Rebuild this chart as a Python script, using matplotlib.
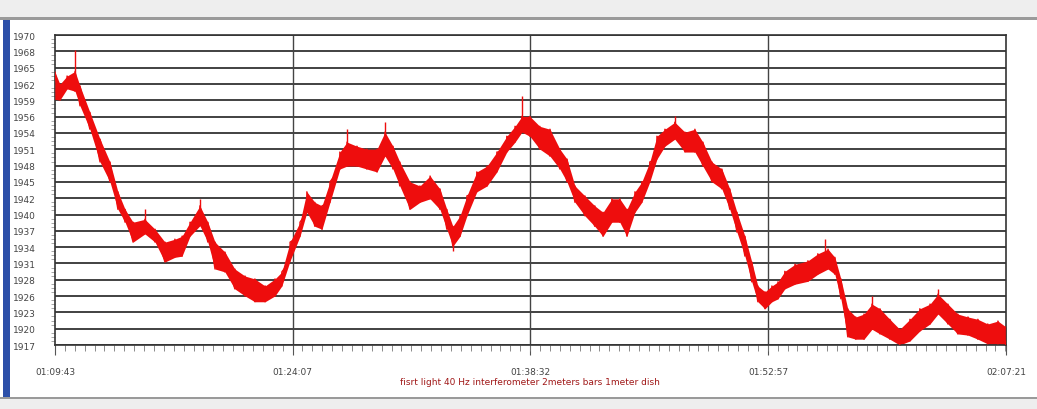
import numpy as np
import matplotlib
matplotlib.use("Agg")
import matplotlib.pyplot as plt
from matplotlib.patches import Rectangle

# seconds since 01:09:43, with the low / high edge of the noisy trace
t_sec = [0, 18, 44, 73, 91, 127, 164, 200, 229, 255, 284, 327, 364, 400, 436,
         462, 491, 527, 556, 582, 618, 654, 691, 727, 764, 800, 825, 855, 891,
         916, 945, 971, 1000, 1036, 1062, 1098, 1134, 1171, 1200, 1229, 1254,
         1291, 1327, 1364, 1400, 1425, 1447, 1473, 1498, 1534, 1571, 1607, 1643,
         1673, 1698, 1727, 1763, 1800, 1836, 1862, 1891, 1927, 1963, 1993, 2025,
         2054, 2080, 2109, 2134, 2163, 2189, 2218, 2254, 2291, 2327, 2356, 2389,
         2425, 2454, 2480, 2509, 2534, 2556, 2582, 2607, 2629, 2654, 2691, 2738,
         2774, 2811, 2836, 2858, 2883, 2912, 2942, 2971, 3000, 3036, 3072, 3109,
         3145, 3182, 3211, 3247, 3283, 3320, 3356, 3392, 3429, 3458]
v_high = [1963.7, 1961.6, 1963.0, 1963.8, 1961.3, 1956.8, 1952.2, 1948.3, 1943.2,
          1940.2, 1938.0, 1938.5, 1936.8, 1934.6, 1935.1, 1935.6, 1938.0, 1940.8,
          1938.0, 1934.6, 1932.9, 1930.0, 1928.8, 1928.3, 1927.1, 1928.3, 1929.5,
          1934.6, 1938.0, 1943.2, 1941.4, 1940.8, 1944.9, 1950.0, 1951.7, 1951.0,
          1950.5, 1950.5, 1953.4, 1951.0, 1948.3, 1944.9, 1944.2, 1945.9, 1943.7,
          1940.2, 1937.3, 1939.1, 1942.5, 1946.6, 1947.6, 1950.0, 1952.7, 1954.4,
          1956.1, 1956.1, 1954.4, 1953.9, 1950.5, 1948.8, 1944.2, 1942.5, 1940.8,
          1939.7, 1942.0, 1942.0, 1940.2, 1943.2, 1944.9, 1948.3, 1952.7, 1953.9,
          1955.1, 1953.4, 1953.9, 1951.7, 1948.3, 1947.1, 1943.7, 1939.7, 1935.6,
          1931.2, 1927.1, 1926.1, 1927.1, 1927.8, 1929.6, 1930.8, 1931.4, 1932.6,
          1933.4, 1932.0, 1928.3, 1923.2, 1921.8, 1922.3, 1924.0, 1923.2, 1921.4,
          1919.7, 1921.4, 1923.2, 1924.0, 1925.7, 1924.0, 1922.3, 1921.8, 1921.4,
          1920.6, 1921.1, 1920.1]
v_low = [1959.0, 1958.9, 1960.8, 1960.4, 1957.9, 1953.9, 1948.3, 1944.9, 1940.2,
         1938.0, 1934.6, 1936.0, 1934.6, 1931.2, 1932.0, 1932.2, 1935.6, 1937.4,
         1934.6, 1930.0, 1929.5, 1926.6, 1925.4, 1924.4, 1924.4, 1925.4, 1927.1,
         1931.4, 1935.6, 1939.7, 1937.3, 1936.8, 1941.4, 1947.1, 1947.6, 1947.6,
         1947.1, 1946.6, 1949.3, 1947.1, 1944.2, 1940.2, 1941.4, 1942.0, 1940.2,
         1936.8, 1933.9, 1935.6, 1939.1, 1943.2, 1944.2, 1946.6, 1950.0, 1951.7,
         1953.4, 1952.7, 1950.5, 1949.3, 1947.1, 1944.9, 1941.4, 1939.1, 1937.3,
         1935.6, 1938.0, 1938.0, 1935.6, 1939.7, 1941.4, 1944.9, 1948.8, 1951.0,
         1952.2, 1950.0, 1950.0, 1947.6, 1944.9, 1943.7, 1940.2, 1936.3, 1932.2,
         1927.8, 1924.4, 1923.2, 1924.4, 1924.9, 1926.6, 1927.4, 1927.9, 1929.1,
         1930.0, 1929.1, 1924.9, 1918.4, 1918.0, 1918.0, 1919.7, 1918.9, 1918.0,
         1917.0, 1917.7, 1919.4, 1920.6, 1922.3, 1920.6, 1918.9, 1918.7, 1918.0,
         1917.2, 1917.2, 1917.0]

# isolated spikes: time, base, tip
spike_t = [73, 327, 527, 1062, 1200, 1447, 1698, 2254, 2800, 2971, 3211]
spike_base = [1962.0, 1937.0, 1939.0, 1949.5, 1951.0, 1935.5, 1954.5, 1953.5, 1932.0, 1922.0, 1924.0]
spike_v = [1967.5, 1940.2, 1942.0, 1953.9, 1955.1, 1933.0, 1959.6, 1956.1, 1935.1, 1925.4, 1926.6]

y_labels = ["1917", "1920", "1923", "1926", "1928", "1931", "1934", "1937", "1940",
            "1942", "1945", "1948", "1951", "1954", "1956", "1959", "1962", "1965",
            "1968", "1970"]
x_labels = ["01:09:43", "01:24:07", "01:38:32", "01:52:57", "02:07:21"]
x_ticks = [0, 864, 1729, 2594, 3458]
caption = "fisrt light 40 Hz interferometer 2meters bars 1meter dish"

fig = plt.figure(figsize=(10.37, 4.10), dpi=100)
fig.patch.set_facecolor("white")

# window chrome around the plot
fig.patches.append(Rectangle((0, 0.953), 1, 0.047, transform=fig.transFigure,
                             facecolor="#eeeeee", edgecolor="none", zorder=0))
fig.patches.append(Rectangle((0, 0.950), 1, 0.005, transform=fig.transFigure,
                             facecolor="#9a9a9a", edgecolor="none", zorder=0))
fig.patches.append(Rectangle((0, 0), 1, 0.025, transform=fig.transFigure,
                             facecolor="#eeeeee", edgecolor="none", zorder=0))
fig.patches.append(Rectangle((0, 0.025), 1, 0.005, transform=fig.transFigure,
                             facecolor="#9a9a9a", edgecolor="none", zorder=0))
fig.patches.append(Rectangle((0.003, 0.03), 0.007, 0.92, transform=fig.transFigure,
                             facecolor="#2c4fa8", edgecolor="none", zorder=1))

ax = fig.add_axes([0.053, 0.156, 0.917, 0.756])
ax.set_xlim(0, 3458)
ax.set_ylim(1917, 1970)

yt = np.linspace(1917, 1970, 20)
ax.set_yticks(yt)
ax.set_yticklabels(y_labels)
ax.set_xticks(x_ticks)
ax.set_xticklabels(x_labels)
ax.set_xticks(np.arange(0, 3458, 36), minor=True)
ax.set_yticks(np.linspace(1917, 1970, 77), minor=True)

for y in yt:
    ax.axhline(y, color="#333333", lw=1.3, zorder=1)
for x in x_ticks[1:-1]:
    ax.axvline(x, color="#444444", lw=1.0, zorder=1)

red = "#ee0d0d"
ax.fill_between(t_sec, v_low, v_high, color=red, lw=0, zorder=2)
zx = np.repeat(t_sec, 2)
zy = np.column_stack([v_low, v_high]).ravel()
ax.plot(zx, zy, color=red, lw=1.0, zorder=3)
ax.vlines(spike_t, spike_base, spike_v, color=red, lw=1.0, zorder=3)

for s in ax.spines.values():
    s.set_color("#333333")
    s.set_linewidth(1.2)

ax.tick_params(axis="both", which="major", labelsize=6.5, colors="#555555",
               labelcolor="#444444")
ax.tick_params(axis="x", which="major", length=7, pad=9)
ax.tick_params(axis="y", which="major", length=0, pad=14)
ax.tick_params(axis="x", which="minor", length=4, color="#777777")
ax.tick_params(axis="y", which="minor", length=3, color="#999999")

fig.text(0.511, 0.06, caption, color="#a01818", fontsize=6.5, ha="center")

fig.savefig("out.png", dpi=100)
